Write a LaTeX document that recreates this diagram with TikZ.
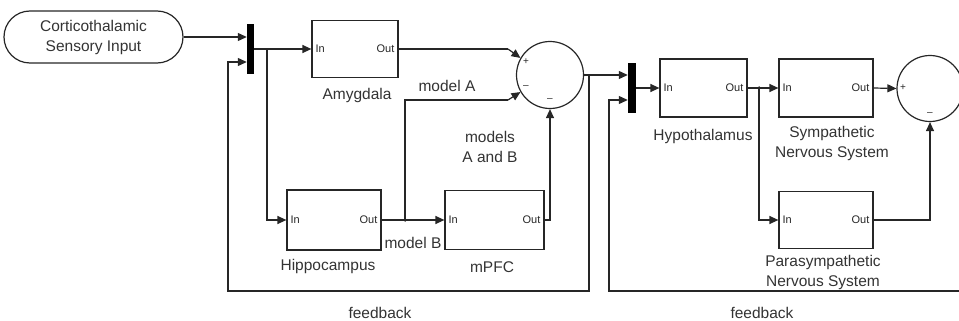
\documentclass[tikz,border=0pt]{standalone}
\usepackage{fontspec}
\setmainfont{Liberation Sans}
\usetikzlibrary{arrows.meta,calc}

\begin{document}
\begin{tikzpicture}[x=1pt,y=-1pt,
  wire/.style={line width=1.2pt, draw=black!85},
  sig/.style={wire,-{Triangle[length=9pt,width=8pt]}},
  blk/.style={draw=black!85, line width=1.2pt, inner sep=0pt},
  muxbar/.style={fill=black, draw=none, inner sep=0pt},
  sumc/.style={circle, draw=black!85, line width=1.2pt, inner sep=0pt, minimum size=67pt},
  lbl/.style={text=black!80, font=\fontsize{15.5}{20}\selectfont, align=center, inner sep=0pt},
  port/.style={text=black!85, font=\fontsize{11}{12}\selectfont, inner sep=0pt},
  sgn/.style={text=black!85, font=\fontsize{10}{12}\selectfont, inner sep=0pt},
  jdot/.style={circle, fill=black, inner sep=0pt, minimum size=3.5pt}
]
\clip (0,0) rectangle (959,321);
\useasboundingbox (0,0) rectangle (959,321);

% ---- blocks ----
\node[blk, rounded corners=26pt, minimum width=179pt, minimum height=52pt, lbl] (inp) at (93.5,37) {Corticothalamic\\Sensory Input};
\node[muxbar, minimum width=7pt, minimum height=50pt] (mux1) at (250.5,49) {};
\node[blk, minimum width=86pt, minimum height=57pt] (amyg) at (355,49) {};
\node[blk, minimum width=94pt, minimum height=60pt] (hippo) at (334,220) {};
\node[blk, minimum width=99pt, minimum height=59pt] (mpfc) at (494.5,220) {};
\node[sumc] (sum1) at (550,75) {};
\node[muxbar, minimum width=8pt, minimum height=50pt] (mux2) at (632,88) {};
\node[blk, minimum width=87pt, minimum height=58pt] (hypo) at (703.5,88) {};
\node[blk, minimum width=94pt, minimum height=58pt] (symp) at (826,88) {};
\node[blk, minimum width=94pt, minimum height=57pt] (para) at (826,220) {};
\node[sumc, minimum size=66pt] (sum2) at (930,88.5) {};

% ---- port names ----
\foreach \b in {amyg,hippo,mpfc,hypo,symp,para}{
  \node[port, anchor=west] (\b In) at ($(\b.west)+(4,0)$) {In};
  \node[port, anchor=east] (\b Out) at ($(\b.east)+(-4,0)$) {Out};
}

% ---- sum signs ----
\node[sgn] (s1a) at (526,62) {+};
\node[sgn] (s1b) at (526,87) {\textendash};
\node[sgn] (s1c) at (550,100) {\textendash};
\node[sgn] (s2a) at (903,88) {+};
\node[sgn] (s2b) at (930,114) {\textendash};

% ---- labels ----
\node[lbl] (lamyg) at (357,95) {Amygdala};
\node[lbl] (lmodA) at (447,86) {model A};
\node[lbl] (lmodAB) at (490,147) {models\\A and B};
\node[lbl] (lhippo) at (328,266) {Hippocampus};
\node[lbl] (lmodB) at (413,243) {model B};
\node[lbl] (lmpfc) at (492,267) {mPFC};
\node[lbl] (lfb1) at (380,313) {feedback};
\node[lbl] (lhypo) at (703,136) {Hypothalamus};
\node[lbl] (lsymp) at (832,143) {Sympathetic\\Nervous System};
\node[lbl] (lpara) at (823,272) {Parasympathetic\\Nervous System};
\node[lbl] (lfb2) at (762,313) {feedback};

% ---- junctions and bends ----
\coordinate (br1) at (267,49);
\coordinate (jB) at (405,220);
\coordinate (amygBend) at (508,49);
\coordinate (modABend) at (508,100);
\coordinate (fb1) at (589,75);
\coordinate (jH) at (759,88);
\coordinate (fb2end) at (959,291);
\node[jdot] (dotB) at (jB) {};
\node[jdot] (dotH) at (jH) {};

% ---- connectors ----
\draw[sig] (inp.east) -- (mux1.west |- inp.east);
\draw[sig] (mux1.east) -- (amyg.west);
\draw[sig] (br1) |- (hippo.west);
\draw[wire] (amyg.east) -- (amygBend);
\draw[sig] (amygBend) -- (sum1.150);
\draw[wire] (jB) |- (modABend);
\draw[sig] (modABend) -- (sum1.210);
\draw[sig] (hippo.east) -- (mpfc.west);
\draw[sig] (mpfc.east) -| (sum1.south);
\draw[sig] (sum1.east) -- (mux2.west |- sum1.east);
\draw[sig] (fb1) -- (589,291) -| (228,62) -- (mux1.west |- 0,62);
\draw[sig] (fb2end) -| (609,100) -- (mux2.west |- 0,100);
\draw[sig] (mux2.east) -- (hypo.west);
\draw[sig] (hypo.east) -- (symp.west);
\draw[sig] (jH) |- (para.west);
\draw[sig] (symp.east) -- (sum2.west);
\draw[sig] (para.east) -| (sum2.south);
\end{tikzpicture}
\end{document}
